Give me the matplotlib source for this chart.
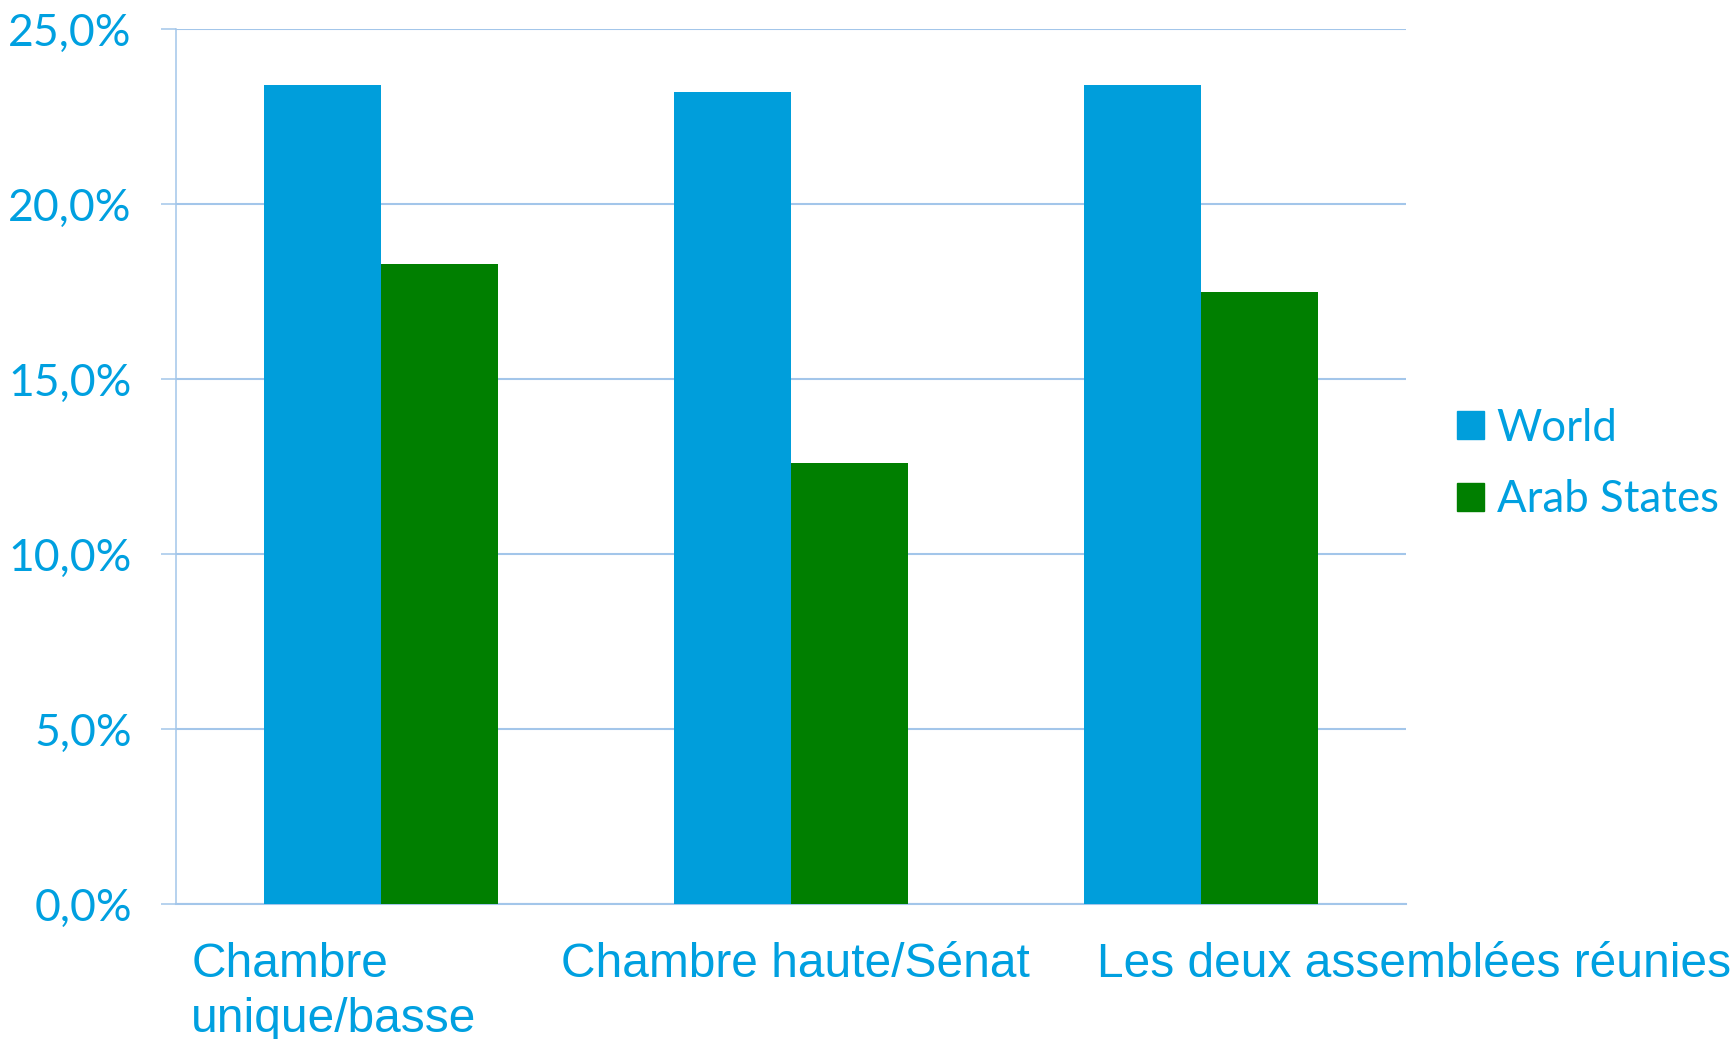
import numpy as np
import matplotlib.pyplot as plt
from matplotlib.patches import Patch
from matplotlib.ticker import FuncFormatter

categories = ["Chambre\nunique/basse", "Chambre haute/Sénat", "Les deux assemblées réunies"]
world = [23.4, 23.2, 23.4]
arab = [18.3, 12.6, 17.5]
series_names = ["World", "Arab States"]
yticks = [0, 5, 10, 15, 20, 25]

blue = "#009EDB"
green = "#007F00"
txt = "#00A0E0"
grid = "#A3C6EA"

fig = plt.figure(figsize=(17.34, 10.39), dpi=100)
ax = fig.add_axes([176 / 1734, 1 - 904 / 1039, 1230 / 1734, 874.7 / 1039])

x = np.arange(len(categories))
w = 1 / 3.5
ax.bar(x - w / 2, world, width=w, color=blue, zorder=3)
ax.bar(x + w / 2, arab, width=w, color=green, zorder=3)

ax.set_xlim(-0.5, 2.5)
ax.set_ylim(0, 25)
ax.set_yticks(yticks)
ax.yaxis.set_major_formatter(FuncFormatter(lambda v, p: f"{v:.1f}%".replace(".", ",")))
ax.grid(axis="y", color=grid, linewidth=1.5, zorder=0)
ax.tick_params(axis="y", length=10.8, width=1.1, color=grid, pad=21,
               labelsize=32, labelcolor=txt)
for lab in ax.get_yticklabels():
    lab.set_fontfamily("Lato")
ax.set_xticks([])

for s in ["top", "right"]:
    ax.spines[s].set_visible(False)
ax.spines["left"].set_color(grid)
ax.spines["left"].set_linewidth(1.1)
ax.spines["bottom"].set_color(grid)
ax.spines["bottom"].set_linewidth(1.5)

# category labels, positioned like the original
label_pos = [(-0.463, "left"), (1.01, "center"), (1.746, "left")]
for (px, ha), name in zip(label_pos, categories):
    ax.text(px, -0.043, name, transform=ax.get_xaxis_transform(), ha=ha, va="top",
            fontsize=34.5, color=txt, family="Liberation Sans", linespacing=1.3,
            multialignment="left")

handles = [Patch(color=blue), Patch(color=green)]
leg = fig.legend(handles, series_names, loc="center left",
                 bbox_to_anchor=(1457 / 1734, 1 - 464 / 1039),
                 frameon=False, borderpad=0, borderaxespad=0,
                 handlelength=0.61, handleheight=0.61, handletextpad=0.3,
                 labelspacing=0.7, prop={"family": "Lato", "size": 31.5})
for t in leg.get_texts():
    t.set_color(txt)

fig.savefig("out.png", dpi=100)
